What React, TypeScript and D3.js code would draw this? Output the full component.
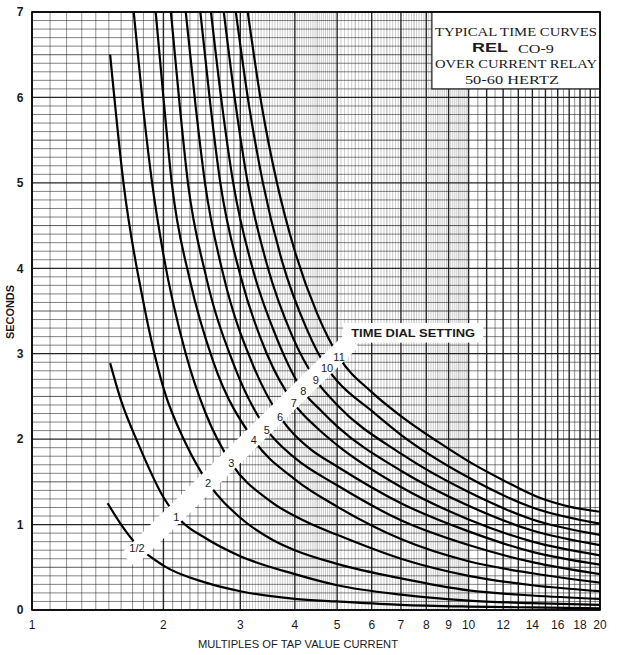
import React from 'react';
import * as d3 from 'd3';

// axis ticks
const xTickLabels = [1, 2, 3, 4, 5, 6, 7, 8, 9, 10, 12, 14, 16, 18, 20];
const yTickLabels = [0, 1, 2, 3, 4, 5, 6, 7];

// one curve per time dial setting: [multiple of tap current, seconds]
const curveHalf = [[1.49, 1.25], [1.6, 1.0], [1.74, 0.76], [2.0, 0.52], [2.5, 0.32], [3, 0.22], [4, 0.13], [5, 0.1], [7, 0.06], [10, 0.04], [14, 0.03], [20, 0.02]];
const curve1 = [[1.51, 2.89], [1.6, 2.45], [1.75, 1.95], [2.0, 1.32], [2.2, 1.04], [2.5, 0.84], [3, 0.63], [4, 0.42], [5, 0.29], [7, 0.18], [10, 0.11], [14, 0.08], [20, 0.06]];
const curve2 = [[1.51, 6.5], [1.62, 5.0], [1.8, 3.6], [2.0, 2.6], [2.25, 1.95], [2.53, 1.49], [3, 1.08], [3.56, 0.82], [4, 0.7], [5, 0.54], [7, 0.37], [10, 0.23], [14, 0.17], [20, 0.13]];
const curve3 = [[1.71, 7.0], [1.8, 5.85], [1.884, 5.0], [2.0, 4.16], [2.25, 3.0], [2.5, 2.3], [2.86, 1.72], [3.5, 1.28], [4.26, 1.03], [5, 0.88], [7, 0.6], [10, 0.4], [14, 0.29], [20, 0.22]];
const curve4 = [[1.92, 7.0], [2.0, 6.0], [2.09, 5.0], [2.3, 3.86], [2.6, 2.91], [3.22, 1.99], [4, 1.53], [5, 1.21], [7, 0.83], [10, 0.57], [14, 0.43], [20, 0.32]];
const curve5 = [[2.08, 7.0], [2.18, 5.9], [2.276, 5.0], [2.5, 3.92], [2.9, 2.87], [3.45, 2.11], [4, 1.78], [5, 1.46], [7, 1.05], [10, 0.76], [14, 0.56], [20, 0.42]];
const curve6 = [[2.25, 7.0], [2.37, 5.9], [2.49, 5.0], [2.75, 3.9], [3.2, 2.88], [3.7, 2.26], [4.3, 1.9], [5, 1.68], [7, 1.25], [10, 0.92], [14, 0.68], [20, 0.53]];
const curve7 = [[2.43, 7.0], [2.56, 5.93], [2.7, 5.0], [3.0, 3.92], [3.45, 3.0], [3.98, 2.42], [4.5, 2.13], [5, 1.93], [7, 1.44], [10, 1.06], [14, 0.8], [20, 0.64]];
const curve8 = [[2.57, 7.0], [2.72, 5.94], [2.89, 5.0], [3.2, 4.0], [3.65, 3.16], [4.18, 2.56], [4.6, 2.33], [5, 2.15], [7, 1.63], [10, 1.22], [14, 0.93], [20, 0.76]];
const curve9 = [[2.75, 7.0], [2.93, 5.9], [3.12, 5.0], [3.45, 4.05], [3.95, 3.2], [4.47, 2.69], [5, 2.4], [7, 1.83], [10, 1.38], [14, 1.06], [20, 0.88]];
const curve10 = [[2.93, 7.0], [3.14, 5.91], [3.38, 5.0], [3.75, 4.06], [4.25, 3.3], [4.74, 2.83], [5, 2.68], [6, 2.33], [7, 2.05], [10, 1.55], [14, 1.2], [20, 1.01]];
const curve11 = [[3.12, 7.0], [3.36, 5.9], [3.64, 5.0], [4.0, 4.2], [4.5, 3.47], [5.05, 2.96], [6, 2.55], [7, 2.27], [8.5, 1.97], [10, 1.74], [12, 1.52], [14.6, 1.31], [17, 1.21], [20, 1.15]];

const dialNames = ['1/2', '1', '2', '3', '4', '5', '6', '7', '8', '9', '10', '11'];
const dialCurves = [curveHalf, curve1, curve2, curve3, curve4, curve5, curve6, curve7, curve8, curve9, curve10, curve11];

// where each dial number sits on the white strip
const labelM = [1.74, 2.14, 2.53, 2.86, 3.22, 3.45, 3.7, 3.98, 4.18, 4.47, 4.74, 5.05];
const labelT = [0.73, 1.09, 1.49, 1.72, 1.99, 2.11, 2.26, 2.42, 2.56, 2.69, 2.83, 2.96];

const titleLines = ['TYPICAL TIME CURVES', 'CO-9', 'OVER CURRENT RELAY', '50-60 HERTZ'];

const W = 631, H = 655;
const left = 32, right = 600, top = 12, bottom = 610;
const ink = '#1a1a1a';
const sans = 'Liberation Sans, Arial, sans-serif';
const serif = 'Liberation Serif, Times New Roman, serif';

function steps(from, to, step) {
  const n = Math.round((to - from) / step);
  return d3.range(n).map(i => +(from + i * step).toFixed(3));
}

export default function App() {
  const x = d3.scaleLog().domain([1, 20]).range([left, right]);
  const y = d3.scaleLinear().domain([0, 7]).range([bottom, top]);

  const gridX = [...steps(1, 3, 0.1), ...steps(3, 5, 0.05), ...steps(5, 10, 0.1), ...steps(10, 20, 0.5), 20];
  const gridY = d3.range(0, 71).map(i => i / 10);

  const line = d3.line()
    .x(d => x(d[0]))
    .y(d => y(d[1]))
    .curve(d3.curveMonotoneX);

  const isWhole = v => Math.abs(v - Math.round(v)) < 1e-6;
  const isHalf = v => Math.abs(v * 2 - Math.round(v * 2)) < 1e-6;

  // vertical rulings get finer (and fainter) where the log scale squeezes them
  const vOpacity = v => {
    if (isWhole(v)) return 0.95;
    if (v > 3 && v < 10) return isHalf(v) ? 0.6 : 0.38;
    return 0.6;
  };
  const vWidth = v => (isWhole(v) ? 1.4 : v > 3 && v < 10 ? 0.6 : 0.8);

  // strip across the curves that carries the dial numbers
  const bandA = [x(1.66), y(0.585)];
  const bandB = [x(5.41), y(3.16)];

  // "TIME DIAL SETTING" plate
  const plateX0 = x(5.16), plateX1 = x(10.8);
  const plateY0 = y(3.36), plateY1 = y(3.13);

  // title box in the top right corner
  const boxX0 = x(8.24), boxY1 = y(6.1);
  const boxMid = (boxX0 + right) / 2;

  return (
    <div style={{ position: 'absolute', left: 0, top: 0 }}>
      <svg width={W} height={H} style={{ display: 'block', background: '#fff' }}>
        <defs>
          <clipPath id="plot">
            <rect x={left} y={top} width={right - left} height={bottom - top} />
          </clipPath>
        </defs>

        <g>
          {gridY.map(v => (
            <line key={'h' + v} x1={left} x2={right} y1={y(v)} y2={y(v)}
              stroke={ink}
              strokeOpacity={isWhole(v) ? 0.95 : isHalf(v) ? 0.8 : 0.6}
              strokeWidth={isWhole(v) ? 1.3 : 0.9} />
          ))}
          {gridX.map(v => (
            <line key={'v' + v} x1={x(v)} x2={x(v)} y1={top} y2={bottom}
              stroke={ink} strokeOpacity={vOpacity(v)} strokeWidth={vWidth(v)} />
          ))}
        </g>

        <g clipPath="url(#plot)">
          {dialCurves.map((c, i) => (
            <path key={dialNames[i]} d={line(c)} fill="none" stroke="#000" strokeWidth={2.2} />
          ))}
        </g>

        <line x1={bandA[0]} y1={bandA[1]} x2={bandB[0]} y2={bandB[1]} stroke="#fff" strokeWidth={19} />
        <rect x={plateX0} y={plateY0} width={plateX1 - plateX0} height={plateY1 - plateY0} fill="#fff" />
        <text x={(plateX0 + plateX1) / 2} y={(plateY0 + plateY1) / 2} dy="0.36em" textAnchor="middle"
          fontFamily={sans} fontSize={11} fontWeight="bold" fill={ink}
          textLength={124} lengthAdjust="spacingAndGlyphs">TIME DIAL SETTING</text>

        {dialNames.map((name, i) => (
          <text key={'l' + name} x={x(labelM[i])} y={y(labelT[i])} dy="0.36em" textAnchor="middle"
            fontFamily={sans} fontSize={11} fill={ink}>{name}</text>
        ))}

        <rect x={boxX0} y={top} width={right - boxX0} height={boxY1 - top} fill="#fff" stroke={ink} strokeWidth={1.2} />
        <text x={boxMid} y={36} textAnchor="middle" fontFamily={serif} fontSize={12.5} fill={ink}
          textLength={162} lengthAdjust="spacingAndGlyphs">{titleLines[0]}</text>
        <text x={boxMid - 26} y={52} textAnchor="middle" fontFamily={sans} fontSize={13} fontWeight="bold" fill={ink}
          textLength={36} lengthAdjust="spacingAndGlyphs">REL</text>
        <text x={boxMid + 20} y={53} textAnchor="middle" fontFamily={serif} fontSize={12.5} fill={ink}
          textLength={36} lengthAdjust="spacingAndGlyphs">{titleLines[1]}</text>
        <text x={boxMid} y={68} textAnchor="middle" fontFamily={serif} fontSize={12.5} fill={ink}
          textLength={162} lengthAdjust="spacingAndGlyphs">{titleLines[2]}</text>
        <text x={boxMid - 4} y={84} textAnchor="middle" fontFamily={serif} fontSize={12.5} fill={ink}
          textLength={94} lengthAdjust="spacingAndGlyphs">{titleLines[3]}</text>

        <rect x={left} y={top} width={right - left} height={bottom - top} fill="none" stroke="#000" strokeWidth={1.6} />

        {yTickLabels.map(v => (
          <text key={'yt' + v} x={left - 12} y={y(v)} dy="0.36em" textAnchor="middle"
            fontFamily={sans} fontSize={12} fontWeight="bold" fill={ink}>{v}</text>
        ))}
        {xTickLabels.map(v => (
          <text key={'xt' + v} x={x(v)} y={bottom + 19} textAnchor="middle"
            fontFamily={sans} fontSize={12} fill={ink}>{v}</text>
        ))}

        <text x={298} y={648} textAnchor="middle" fontFamily={sans} fontSize={11} fill={ink}
          textLength={200} lengthAdjust="spacingAndGlyphs">MULTIPLES OF TAP VALUE CURRENT</text>
        <text transform="translate(14,312) rotate(-90)" textAnchor="middle" fontFamily={sans} fontSize={11}
          fontWeight="bold" fill={ink} textLength={54} lengthAdjust="spacingAndGlyphs">SECONDS</text>
      </svg>
    </div>
  );
}
